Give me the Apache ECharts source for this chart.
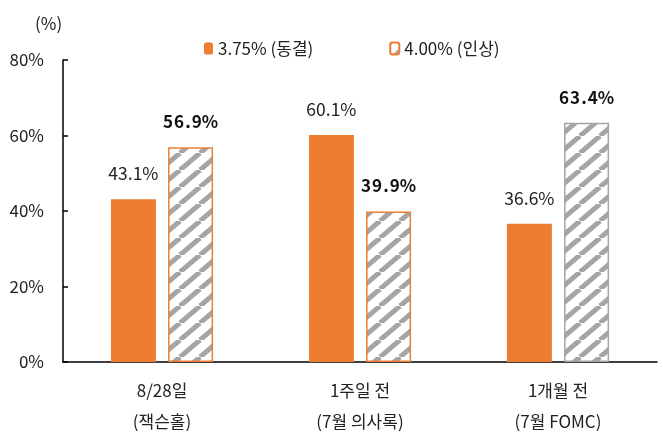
<!DOCTYPE html>
<html>
<head>
<meta charset="utf-8">
<script src="https://cdn.jsdelivr.net/npm/echarts@6/dist/echarts.min.js"></script>
<style>
html,body{margin:0;padding:0;background:#fff;}
#main{width:663px;height:441px;}
</style>
</head>
<body>
<div id="main"></div>
<script>
// 데이터
var categories = ['8/28일\n(잭슨홀)', '1주일 전\n(7월 의사록)', '1개월 전\n(7월 FOMC)'];
var holdValues = [43.1, 60.1, 36.6];   // 3.75% (동결)
var hikeValues = [56.9, 39.9, 63.4];   // 4.00% (인상)
var seriesNames = ['3.75% (동결)', '4.00% (인상)'];
var yTicks = [0, 20, 40, 60, 80];

var FONT = '"Noto Sans CJK KR", "Noto Sans", sans-serif';
var ORANGE = '#ED7D31';
var GREY = '#A5A5A5';

// 빗금 패턴
function makeHatch(){
	var w = 20, h = 17;
	var c = document.createElement('canvas');
	c.width = w; c.height = h;
	var ctx = c.getContext('2d');
	ctx.fillStyle = '#fff';
	ctx.fillRect(0, 0, w, h);
	ctx.strokeStyle = GREY;
	ctx.lineWidth = 5;
	for(var k = -1; k <= 1; k++){
		ctx.beginPath();
		ctx.moveTo(k*w, h);
		ctx.lineTo(k*w + w, 0);
		ctx.stroke();
	}
	return c;
}
var hatch = {image: makeHatch(), repeat: 'repeat'};

var hikeData = [];
for(var i = 0; i < hikeValues.length; i++){
	hikeData.push({
		value: hikeValues[i],
		itemStyle: {borderColor: i == 2 ? GREY : ORANGE}
	});
}

var myChart = echarts.init(document.getElementById('main'));

var option = {
	animation: false,
	backgroundColor: '#fff',
	textStyle: {fontFamily: FONT},
	title: {
		text: '(%)',
		left: 30,
		top: 10,
		textStyle: {fontFamily: FONT, fontSize: 17, fontWeight: 'normal', color: '#222'}
	},
	legend: {
		left: 199,
		top: 35,
		itemWidth: 9,
		itemHeight: 12,
		itemGap: 76,
		textStyle: {fontFamily: FONT, fontSize: 17, color: '#222', padding: [0, 0, 0, 0]},
		data: seriesNames
	},
	grid: {left: 63, right: 6, top: 60, bottom: 79},
	xAxis: {
		type: 'category',
		data: categories,
		axisLine: {lineStyle: {color: '#000', width: 1.5}},
		axisTick: {show: false},
		axisLabel: {fontFamily: FONT, fontSize: 17, color: '#222', lineHeight: 31, margin: 13}
	},
	yAxis: {
		type: 'value',
		min: yTicks[0],
		max: yTicks[yTicks.length - 1],
		interval: yTicks[1] - yTicks[0],
		splitLine: {show: false},
		axisLine: {show: true, lineStyle: {color: '#000', width: 1.5}},
		axisTick: {show: true, inside: true, length: 5, lineStyle: {color: '#000', width: 1.5}},
		axisLabel: {fontFamily: FONT, fontSize: 17, color: '#222', margin: 19, formatter: '{value}%'}
	},
	series: [
		{
			name: seriesNames[0],
			type: 'bar',
			barWidth: 45,
			barGap: '27%',
			data: holdValues,
			itemStyle: {color: ORANGE},
			label: {
				show: true, position: 'top', distance: 17,
				fontFamily: FONT, fontSize: 17.5, color: '#222',
				formatter: function(p){ return p.value.toFixed(1) + '%'; }
			}
		},
		{
			name: seriesNames[1],
			type: 'bar',
			barWidth: 45,
			data: hikeData,
			itemStyle: {color: hatch, borderColor: ORANGE, borderWidth: 1.5},
			label: {
				show: true, position: 'top', distance: 17,
				fontFamily: FONT, fontSize: 17, fontWeight: 'bold', color: '#111',
				formatter: function(p){ return p.value.toFixed(1).split('').join('\u200a') + '%'; }
			}
		}
	]
};

myChart.setOption(option);
</script>
</body>
</html>
